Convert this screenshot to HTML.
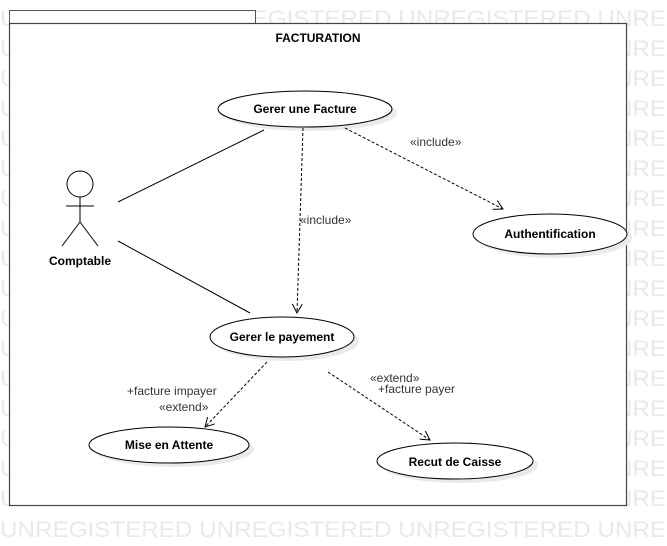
<!DOCTYPE html>
<html><head><meta charset="utf-8"><style>
html,body{margin:0;padding:0;background:#fff;width:667px;height:546px;overflow:hidden}
svg{display:block}
</style></head><body>
<svg width="667" height="546" xmlns="http://www.w3.org/2000/svg" font-family="Liberation Sans, sans-serif">
<defs>
<marker id="a" markerWidth="12" markerHeight="12" refX="10" refY="5" orient="auto" markerUnits="userSpaceOnUse">
<path d="M1,0 L10,5 L1,10" fill="none" stroke="#000" stroke-width="1"/>
</marker>
</defs>
<g fill="#e9e9e9" font-size="22">
<text x="0" y="26" textLength="666" lengthAdjust="spacingAndGlyphs">UNREGISTERED UNREGISTERED UNREGISTERED UNRE</text>
<text x="0" y="56" textLength="666" lengthAdjust="spacingAndGlyphs">UNREGISTERED UNREGISTERED UNREGISTERED UNRE</text>
<text x="0" y="86" textLength="666" lengthAdjust="spacingAndGlyphs">UNREGISTERED UNREGISTERED UNREGISTERED UNRE</text>
<text x="0" y="116" textLength="666" lengthAdjust="spacingAndGlyphs">UNREGISTERED UNREGISTERED UNREGISTERED UNRE</text>
<text x="0" y="146" textLength="666" lengthAdjust="spacingAndGlyphs">UNREGISTERED UNREGISTERED UNREGISTERED UNRE</text>
<text x="0" y="176" textLength="666" lengthAdjust="spacingAndGlyphs">UNREGISTERED UNREGISTERED UNREGISTERED UNRE</text>
<text x="0" y="206" textLength="666" lengthAdjust="spacingAndGlyphs">UNREGISTERED UNREGISTERED UNREGISTERED UNRE</text>
<text x="0" y="236" textLength="666" lengthAdjust="spacingAndGlyphs">UNREGISTERED UNREGISTERED UNREGISTERED UNRE</text>
<text x="0" y="266" textLength="666" lengthAdjust="spacingAndGlyphs">UNREGISTERED UNREGISTERED UNREGISTERED UNRE</text>
<text x="0" y="296" textLength="666" lengthAdjust="spacingAndGlyphs">UNREGISTERED UNREGISTERED UNREGISTERED UNRE</text>
<text x="0" y="326" textLength="666" lengthAdjust="spacingAndGlyphs">UNREGISTERED UNREGISTERED UNREGISTERED UNRE</text>
<text x="0" y="356" textLength="666" lengthAdjust="spacingAndGlyphs">UNREGISTERED UNREGISTERED UNREGISTERED UNRE</text>
<text x="0" y="386" textLength="666" lengthAdjust="spacingAndGlyphs">UNREGISTERED UNREGISTERED UNREGISTERED UNRE</text>
<text x="0" y="416" textLength="666" lengthAdjust="spacingAndGlyphs">UNREGISTERED UNREGISTERED UNREGISTERED UNRE</text>
<text x="0" y="446" textLength="666" lengthAdjust="spacingAndGlyphs">UNREGISTERED UNREGISTERED UNREGISTERED UNRE</text>
<text x="0" y="476" textLength="666" lengthAdjust="spacingAndGlyphs">UNREGISTERED UNREGISTERED UNREGISTERED UNRE</text>
<text x="0" y="506" textLength="666" lengthAdjust="spacingAndGlyphs">UNREGISTERED UNREGISTERED UNREGISTERED UNRE</text>
<text x="0" y="537" textLength="666" lengthAdjust="spacingAndGlyphs">UNREGISTERED UNREGISTERED UNREGISTERED UNRE</text>
</g>
<rect x="9.5" y="10.5" width="246" height="13" fill="#fff" stroke="#555" stroke-width="1"/>
<rect x="9.5" y="23.5" width="617" height="482" fill="#fff" stroke="#444" stroke-width="1.2"/>
<text x="318" y="42" font-size="12" font-weight="bold" text-anchor="middle">FACTURATION</text>
<g fill="#eaeaea">
<ellipse cx="310" cy="113" rx="87" ry="18"/>
<ellipse cx="555" cy="238" rx="77" ry="20"/>
<ellipse cx="287" cy="341" rx="72" ry="20"/>
<ellipse cx="174" cy="449" rx="80" ry="18"/>
<ellipse cx="460" cy="465" rx="78" ry="18"/>
</g>
<g fill="#fff" stroke="#000" stroke-width="1">
<ellipse cx="305" cy="109" rx="87" ry="18"/>
<ellipse cx="550" cy="234" rx="77" ry="20"/>
<ellipse cx="282" cy="337" rx="72" ry="20"/>
<ellipse cx="169" cy="445" rx="80" ry="18"/>
<ellipse cx="455" cy="461" rx="78" ry="18"/>
</g>
<g font-size="12" font-weight="bold" text-anchor="middle" fill="#000">
<text x="305" y="113">Gerer une Facture</text>
<text x="550" y="238">Authentification</text>
<text x="282" y="341">Gerer le payement</text>
<text x="169" y="449">Mise en Attente</text>
<text x="455" y="466">Recut de Caisse</text>
<text x="80" y="265">Comptable</text>
</g>
<g stroke="#000" stroke-width="1" fill="none">
<circle cx="80" cy="184" r="13"/>
<line x1="80" y1="197" x2="80" y2="222"/>
<line x1="66" y1="206" x2="94" y2="206"/>
<line x1="80" y1="222" x2="62" y2="246"/>
<line x1="80" y1="222" x2="98" y2="246"/>
<line x1="118" y1="202" x2="264" y2="130"/>
<line x1="118" y1="241" x2="250" y2="313"/>
</g>
<g stroke="#000" stroke-width="1" fill="none" stroke-dasharray="3,2">
<line x1="303" y1="128" x2="297" y2="313" marker-end="url(#a)"/>
<line x1="345" y1="128" x2="503" y2="209" marker-end="url(#a)"/>
<line x1="267" y1="362" x2="205" y2="427" marker-end="url(#a)"/>
<line x1="328" y1="372" x2="430" y2="440" marker-end="url(#a)"/>
</g>
<g font-size="12" fill="#333">
<text x="300" y="224">«include»</text>
<text x="410" y="146">«include»</text>
<text x="127" y="395">+facture impayer</text>
<text x="159" y="411">«extend»</text>
<text x="370" y="382">«extend»</text>
<text x="378" y="393">+facture payer</text>
</g>
</svg>
</body></html>
